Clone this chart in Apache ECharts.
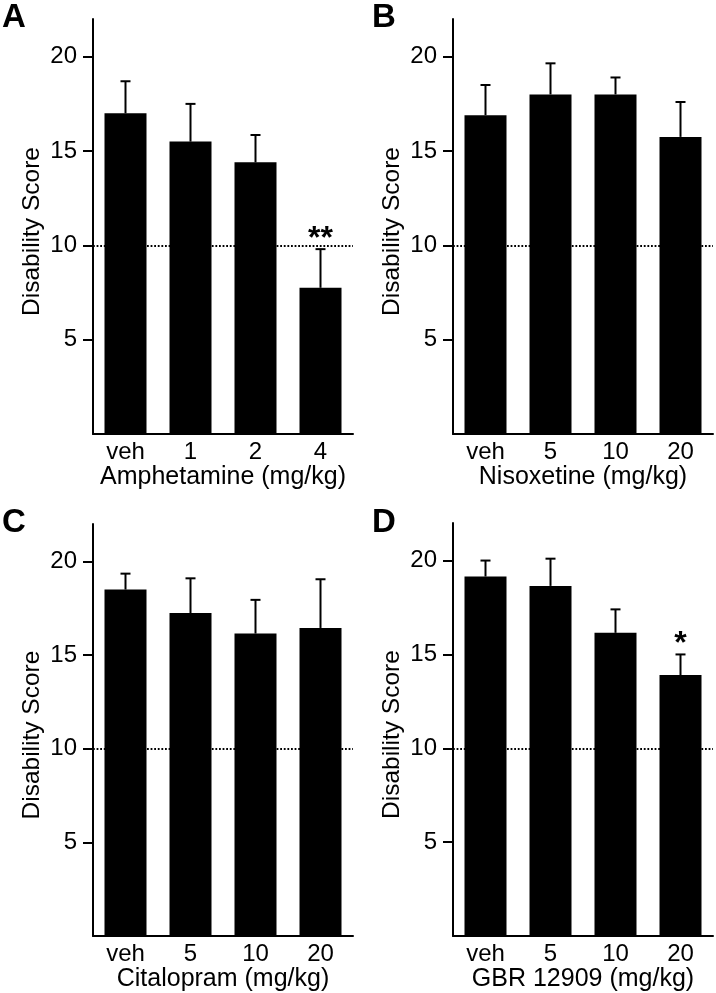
<!DOCTYPE html>
<html>
<head>
<meta charset="utf-8">
<script src="https://cdn.jsdelivr.net/npm/echarts@6/dist/echarts.min.js"></script>
<style>
html,body{margin:0;padding:0;background:#fff;}
#chart{width:716px;height:993px;}
</style>
</head>
<body>
<div id="chart"></div>
<script>
// ---- data ----
const categoriesA = ['veh', '1', '2', '4'];
const categoriesB = ['veh', '5', '10', '20'];
const categoriesC = ['veh', '5', '10', '20'];
const categoriesD = ['veh', '5', '10', '20'];

const meanA = [17.0, 15.5, 14.4, 7.75];
const errA  = [1.7, 2.0, 1.45, 2.05];
const sigA  = ['', '', '', '**'];

const meanB = [16.9, 18.0, 18.0, 15.75];
const errB  = [1.6, 1.65, 0.9, 1.85];
const sigB  = ['', '', '', ''];

const meanC = [18.5, 17.25, 16.15, 16.45];
const errC  = [0.85, 1.85, 1.8, 2.6];
const sigC  = ['', '', '', ''];

const meanD = [19.15, 18.65, 16.15, 13.9];
const errD  = [0.85, 1.45, 1.25, 1.1];
const sigD  = ['', '', '', '*'];

const xNames = ['Amphetamine (mg/kg)', 'Nisoxetine (mg/kg)', 'Citalopram (mg/kg)', 'GBR 12909 (mg/kg)'];
const panelLetters = ['A', 'B', 'C', 'D'];
const yName = 'Disability Score';
const yTicks = [5, 10, 15, 20];
const refLine = 10;

// ---- chart ----
const FONT = "'Liberation Sans', Arial, Helvetica, sans-serif";
const panels = [
  {cats: categoriesA, mean: meanA, err: errA, sig: sigA},
  {cats: categoriesB, mean: meanB, err: errB, sig: sigB},
  {cats: categoriesC, mean: meanC, err: errC, sig: sigC},
  {cats: categoriesD, mean: meanD, err: errD, sig: sigD}
];
const grids = [
  {left: 93, top: 19, width: 260, height: 415},
  {left: 453, top: 19, width: 260, height: 415},
  {left: 93, top: 524, width: 260, height: 415},
  {left: 453, top: 523, width: 260, height: 415}
];
const letterPos = [
  {left: 2, top: 1}, {left: 372, top: 1}, {left: 2, top: 506}, {left: 372, top: 506}
];

const option = {
  animation: false,
  backgroundColor: '#fff',
  textStyle: {fontFamily: FONT},
  title: panelLetters.map((t, i) => ({
    text: t, left: letterPos[i].left, top: letterPos[i].top, padding: 0,
    textStyle: {fontSize: 33, fontWeight: 'bold', color: '#000', fontFamily: FONT}
  })),
  grid: grids,
  xAxis: panels.map((p, i) => ({
    type: 'category', gridIndex: i, data: p.cats,
    axisLine: {lineStyle: {color: '#000', width: 2}},
    axisTick: {show: false},
    axisLabel: {interval: 0, color: '#000', fontSize: 24, margin: 6, fontFamily: FONT},
    name: xNames[i], nameLocation: 'middle', nameGap: 21,
    nameTextStyle: {color: '#000', fontSize: 25, fontFamily: FONT}
  })),
  yAxis: panels.map((p, i) => ({
    type: 'value', gridIndex: i, min: 0, max: 22, interval: 5,
    axisLine: {show: true, lineStyle: {color: '#000', width: 2}},
    axisTick: {show: true, length: 10, lineStyle: {color: '#000', width: 2}, customValues: yTicks},
    axisLabel: {color: '#000', fontSize: 24, margin: 16, customValues: yTicks, fontFamily: FONT},
    splitLine: {show: false},
    name: yName, nameLocation: 'middle', nameGap: 48,
    nameTextStyle: {color: '#000', fontSize: 24.5, fontFamily: FONT, padding: [0, 10, 0, 0]}
  })),
  series: []
};

panels.forEach((p, i) => {
  option.series.push({
    type: 'bar', xAxisIndex: i, yAxisIndex: i,
    data: p.mean, barWidth: 42, z: 3,
    itemStyle: {color: '#000'},
    markLine: {
      silent: true, symbol: ['none', 'none'], z: 1,
      label: {show: false},
      lineStyle: {color: '#000', width: 1.8, type: [1.8, 1.8]},
      data: [{yAxis: refLine}]
    }
  });
  const sig = p.sig;
  option.series.push({
    type: 'custom', xAxisIndex: i, yAxisIndex: i, z: 4,
    data: p.mean.map((m, k) => [k, m, m + p.err[k]]),
    encode: {x: 0, y: [1, 2]},
    renderItem: function (params, api) {
      const x = api.value(0);
      const p1 = api.coord([x, api.value(1)]);
      const p2 = api.coord([x, api.value(2)]);
      const style = {stroke: '#000', lineWidth: 2};
      const children = [
        {type: 'line', shape: {x1: p1[0], y1: p1[1], x2: p2[0], y2: p2[1]}, style: style},
        {type: 'line', shape: {x1: p2[0] - 5, y1: p2[1], x2: p2[0] + 5, y2: p2[1]}, style: style}
      ];
      const s = sig[params.dataIndex];
      if (s) {
        children.push({
          type: 'text',
          style: {
            text: s, x: p2[0], y: p2[1] - 10,
            align: 'center', verticalAlign: 'middle',
            fontSize: 32, fontWeight: 'bold', fill: '#000', fontFamily: FONT
          }
        });
      }
      return {type: 'group', children: children};
    }
  });
});

const chart = echarts.init(document.getElementById('chart'), null, {renderer: 'canvas'});
chart.setOption(option);
</script>
</body>
</html>
